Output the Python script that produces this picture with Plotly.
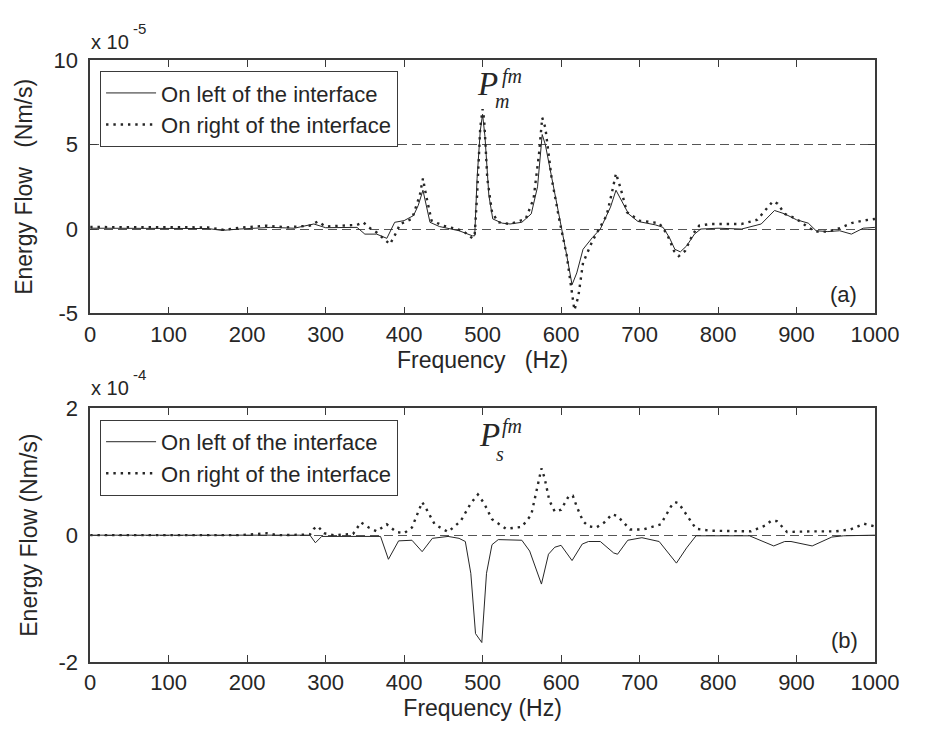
import plotly.graph_objects as go

# ---------------- data (top panel, units of 1e-5 Nm/s) ----------------
f_top_left = [0, 50, 100, 150, 168, 190, 230, 260, 285, 300, 340, 350, 365, 378, 388, 400, 412, 418, 424, 433,
              445, 470, 487, 490, 493, 497, 500, 503, 508, 513, 525, 535, 550, 562, 570, 576, 580, 590, 600, 607,
              614, 620, 628, 640, 650, 656, 663, 670, 678, 686, 698, 720, 730, 738, 745, 752, 760, 770, 778, 800,
              830, 855, 872, 885, 900, 915, 925, 940, 955, 970, 985, 1000]
e_top_left = [0.05, 0.05, 0.06, 0.03, -0.08, 0.0, 0.1, 0.05, 0.3, 0.08, 0.1, -0.3, -0.3, -0.55, 0.4, 0.5, 0.8, 1.4, 2.3, 0.4,
              0.15, -0.1, -0.4, -0.4, 3.0, 5.8, 6.8, 5.5, 2.0, 0.6, 0.35, 0.3, 0.4, 0.9, 2.5, 5.6, 5.0, 2.5, 0.2, -1.5,
              -3.3, -2.6, -1.2, -0.5, 0.0, 0.6, 1.3, 2.3, 1.6, 0.9, 0.45, 0.25, 0.1, -0.5, -1.2, -1.35, -1.0, -0.3, 0.0, 0.05,
              0.0, 0.3, 1.1, 0.9, 0.55, 0.35, -0.1, -0.15, -0.1, -0.3, 0.05, 0.1]

f_top_right = [0, 50, 100, 150, 170, 190, 225, 250, 280, 290, 300, 340, 348, 355, 365, 378, 382, 390, 395, 410,
               420, 424, 428, 435, 450, 475, 487, 490, 493, 497, 500, 502, 506, 512, 520, 535, 555, 565, 572, 576,
               580, 588, 598, 607, 613, 617, 622, 628, 640, 650, 658, 665, 670, 676, 684, 700, 725, 735, 744, 750,
               758, 768, 776, 790, 830, 850, 862, 870, 876, 885, 900, 915, 925, 940, 955, 970, 985, 1000]
e_top_right = [0.12, 0.12, 0.1, 0.1, -0.05, 0.08, 0.2, 0.1, 0.2, 0.45, 0.15, 0.25, 0.4, 0.1, -0.2, -0.7, -0.9, -0.2, 0.3, 0.6,
               2.0, 3.0, 2.0, 0.5, 0.2, -0.1, -0.55, -0.3, 2.0, 6.0, 7.1, 6.5, 3.0, 1.0, 0.4, 0.3, 0.6, 1.8, 4.5, 6.6,
               6.0, 3.0, 0.5, -1.5, -3.5, -4.8, -4.0, -2.0, -0.7, 0.1, 0.8, 2.2, 3.3, 2.4, 1.0, 0.5, 0.35, -0.3, -1.3, -1.6,
               -1.3, -0.3, 0.2, 0.3, 0.3, 0.55, 1.2, 1.65, 1.5, 0.9, 0.6, 0.1, -0.15, -0.15, 0.05, 0.35, 0.5, 0.6]

# ---------------- data (bottom panel, units of 1e-4 Nm/s) ----------------
f_bot_left = [0, 280, 287, 295, 370, 380, 393, 410, 423, 436, 456, 470, 478, 485, 491, 499, 505, 512, 520, 550,
              560, 575, 584, 592, 600, 614, 627, 635, 650, 667, 672, 685, 703, 725, 747, 760, 772, 840, 871, 885,
              893, 920, 945, 960, 1000]
e_bot_left = [0.0, 0.0, -0.12, -0.02, -0.02, -0.38, -0.09, -0.08, -0.26, -0.05, -0.02, -0.05, -0.1, -0.6, -1.55, -1.69, -0.6, -0.15, -0.07, -0.08,
              -0.25, -0.77, -0.3, -0.19, -0.16, -0.4, -0.14, -0.1, -0.1, -0.28, -0.3, -0.08, -0.04, -0.1, -0.44, -0.2, -0.01, -0.01, -0.17, -0.1,
              -0.1, -0.17, -0.03, -0.01, 0.0]

f_bot_right = [0, 190, 225, 240, 280, 285, 290, 298, 310, 335, 345, 355, 365, 378, 390, 400, 410, 418, 423, 428,
               439, 456, 472, 485, 494, 502, 512, 530, 550, 562, 570, 575, 579, 585, 592, 600, 610, 615, 620, 628,
               635, 645, 655, 665, 672, 688, 705, 727, 740, 745, 750, 760, 772, 790, 842, 860, 868, 875, 888, 920,
               950, 969, 986, 999]
e_bot_right = [0.0, 0.0, 0.03, 0.0, 0.01, 0.1, 0.14, 0.03, 0.0, 0.02, 0.2, 0.12, 0.06, 0.17, 0.05, 0.03, 0.12, 0.35, 0.52, 0.42,
               0.17, 0.05, 0.22, 0.5, 0.64, 0.5, 0.25, 0.1, 0.13, 0.32, 0.75, 1.05, 0.9, 0.55, 0.37, 0.4, 0.62, 0.62, 0.45, 0.22,
               0.14, 0.12, 0.2, 0.33, 0.3, 0.09, 0.09, 0.17, 0.45, 0.52, 0.5, 0.32, 0.1, 0.07, 0.06, 0.15, 0.23, 0.22, 0.05, 0.06,
               0.06, 0.09, 0.18, 0.14]

x_ticks = [0, 100, 200, 300, 400, 500, 600, 700, 800, 900, 1000]
y_ticks_top = [-5, 0, 5, 10]
y_ticklabels_top = ["-5", "0", "5", "10"]
y_ticks_bot = [-2, 0, 2]
y_ticklabels_bot = ["-2", "0", "2"]

label_left = "On left of the interface"
label_right = "On right of the interface"

# ---------------- styling ----------------
W, H = 928, 738
INK = "#262626"
AX = "#3a3a3a"
FONT = "Liberation Sans, Arial, sans-serif"
SERIF = "Liberation Serif, Times New Roman, serif"

def px_x(p):
    return p / W

def px_y(p):
    return (H - p) / H

solid_line = dict(color=INK, width=1)
dot_line = dict(color=INK, width=2.4, dash="2.4px,4.9px")

fig = go.Figure()
fig.add_trace(go.Scatter(x=f_top_left, y=e_top_left, mode="lines", name=label_left,
                         line=solid_line, xaxis="x", yaxis="y", legend="legend"))
fig.add_trace(go.Scatter(x=f_top_right, y=e_top_right, mode="lines", name=label_right,
                         line=dot_line, xaxis="x", yaxis="y", legend="legend"))
fig.add_trace(go.Scatter(x=f_bot_left, y=e_bot_left, mode="lines", name=label_left,
                         line=solid_line, xaxis="x2", yaxis="y2", legend="legend2"))
fig.add_trace(go.Scatter(x=f_bot_right, y=e_bot_right, mode="lines", name=label_right,
                         line=dot_line, xaxis="x2", yaxis="y2", legend="legend2"))

common_x = dict(range=[0, 1000], tickvals=x_ticks, ticks="inside", ticklen=7, tickcolor=AX,
                showline=True, linecolor=AX, linewidth=1.5, mirror="ticks", showgrid=False,
                zeroline=False, tickfont=dict(size=22, color=INK, family=FONT),
                title_font=dict(size=23, color=INK, family=FONT), title_standoff=2)
common_y = dict(ticks="inside", ticklen=7, tickcolor=AX, showline=True, linecolor=AX, linewidth=1.5,
                mirror="ticks", showgrid=True, gridcolor="#555555", gridwidth=1, griddash="9px,5px",
                zeroline=False, tickfont=dict(size=22, color=INK, family=FONT), ticklabelstandoff=6,
                title_font=dict(size=23, color=INK, family=FONT), title_standoff=14)

x_dom = [px_x(87), px_x(898)]
fig.update_layout(
    width=W, height=H, margin=dict(l=0, r=0, t=0, b=0),
    paper_bgcolor="white", plot_bgcolor="white",
    font=dict(family=FONT, color=INK),
    xaxis=dict(domain=x_dom, anchor="y", title_text="Frequency\u00a0\u00a0\u00a0(Hz)", **common_x),
    yaxis=dict(domain=[px_y(312), px_y(50)], anchor="x", range=[-5, 10], tickvals=y_ticks_top,
               ticktext=y_ticklabels_top, title_text="Energy Flow\u00a0\u00a0\u00a0(Nm/s)", **common_y),
    xaxis2=dict(domain=x_dom, anchor="y2", title_text="Frequency (Hz)", **common_x),
    yaxis2=dict(domain=[px_y(673), px_y(410)], anchor="x2", range=[-2, 2], tickvals=y_ticks_bot,
                ticktext=y_ticklabels_bot, title_text="Energy Flow (Nm/s)", **common_y),
    legend=dict(x=px_x(97), y=px_y(61), xanchor="left", yanchor="top", bgcolor="white",
                bordercolor=AX, borderwidth=1.2, font=dict(size=22, color=INK, family=FONT),
                tracegroupgap=0, itemwidth=50),
    legend2=dict(x=px_x(97), y=px_y(422), xanchor="left", yanchor="top", bgcolor="white",
                 bordercolor=AX, borderwidth=1.2, font=dict(size=22, color=INK, family=FONT),
                 tracegroupgap=0, itemwidth=50),
    showlegend=True,
)

def ann(text, x, y, size, family=FONT, xanchor="left", yanchor="middle"):
    fig.add_annotation(text=text, x=px_x(x), y=px_y(y), xref="paper", yref="paper",
                       showarrow=False, xanchor=xanchor, yanchor=yanchor,
                       font=dict(size=size, color=INK, family=family))

# exponent labels
ann("x 10", 86, 31, 20)
ann("-5", 129, 17, 15)
ann("x 10", 86, 389, 20)
ann("-4", 129, 375, 15)

# power symbols (P with stacked subscript / superscript)
ann("<i>P</i>", 485, 75, 33, SERIF)
ann("<i>m</i>", 503, 92, 20, SERIF)
ann("<i>fm</i>", 510, 67, 20, SERIF)
ann("<i>P</i>", 487, 438, 33, SERIF)
ann("<i>s</i>", 504, 457, 20, SERIF)
ann("<i>fm</i>", 510, 429, 20, SERIF)

# panel tags
ann("(a)", 865, 292, 22, xanchor="center")
ann("(b)", 867, 651, 22, xanchor="center")

fig.write_html("out.html")
